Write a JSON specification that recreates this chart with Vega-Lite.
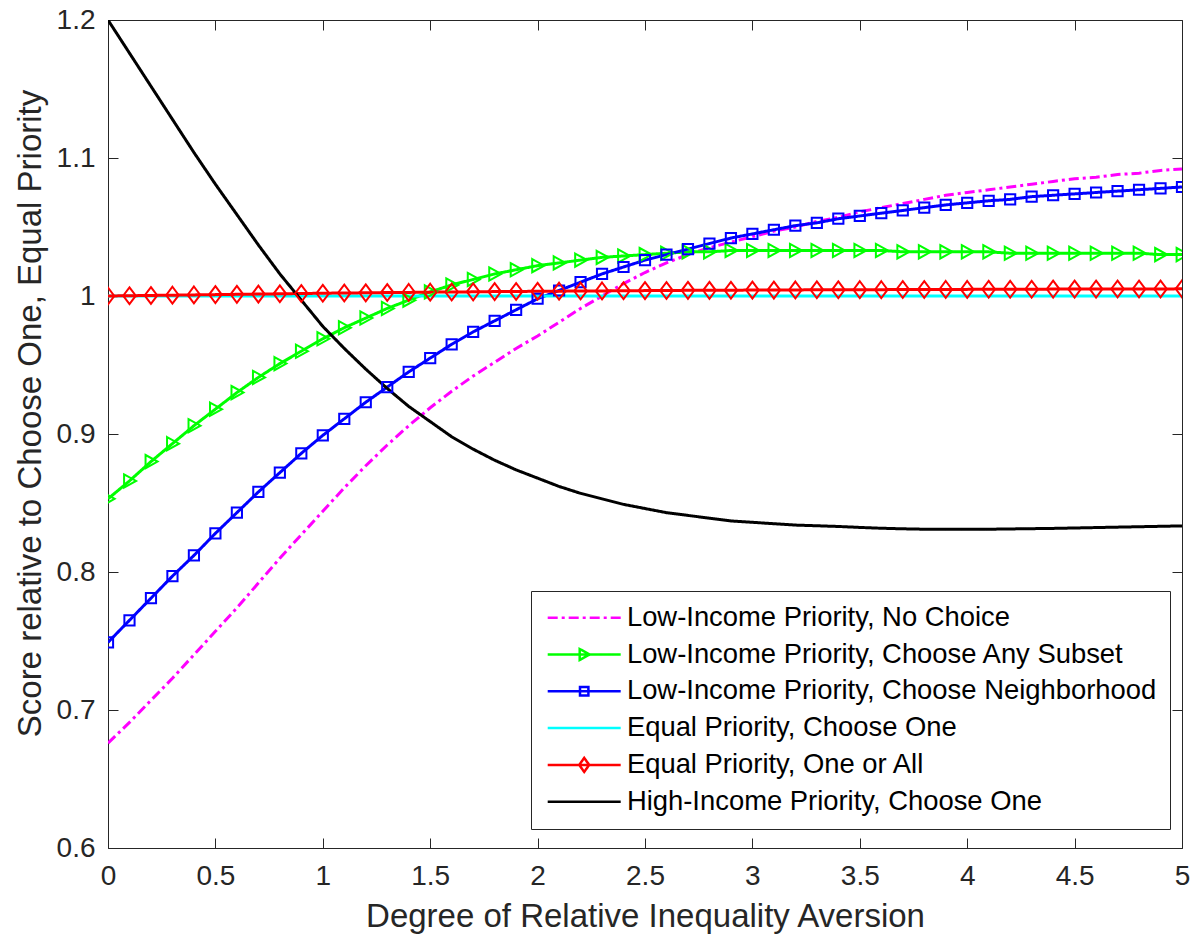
{
"$schema": "https://vega.github.io/schema/vega-lite/v6.json",
"width": 1074, "height": 828,
"autosize": {"type": "none"},
"padding": {"left": 108, "top": 20, "right": 14, "bottom": 94},
"background": "white",
"title": {"text": "Cost-Adjusted", "font": "Liberation Sans", "fontSize": 33, "fontWeight": "bold", "color": "#000000", "anchor": "middle", "frame": "group", "offset": 0, "dy": 14, "baseline": "alphabetic"},
"config": {"view": {"stroke": null}, "font": "Liberation Sans",
  "axis": {"domainColor": "#262626", "tickColor": "#262626", "domainWidth": 1, "tickWidth": 1, "grid": false, "tickSize": -10,
    "labelFont": "Liberation Sans", "labelFontSize": 28, "labelColor": "#262626",
    "titleFont": "Liberation Sans", "titleFontSize": 33, "titleFontWeight": "normal", "titleColor": "#262626"},
  "legend": {"orient": "none", "legendX": 423, "legendY": 571, "title": null, "symbolSize": 400, "symbolStrokeWidth": 2.5, "symbolOffset": 26.5,
    "symbolOpacity": 1, "symbolFillColor": "transparent",
    "labelFont": "Liberation Sans", "labelFontSize": 27.4, "labelColor": "#000000", "labelLimit": 0, "labelOffset": 29,
    "rowPadding": 7.8, "padding": 13, "fillColor": "white", "strokeColor": "#262626", "cornerRadius": 0}},
"data": {"values": [
{"series":"Low-Income Priority, No Choice","x":0,"y":0.676},{"series":"Low-Income Priority, No Choice","x":0.1,"y":0.691},{"series":"Low-Income Priority, No Choice","x":0.2,"y":0.707},{"series":"Low-Income Priority, No Choice","x":0.3,"y":0.723},{"series":"Low-Income Priority, No Choice","x":0.4,"y":0.740},{"series":"Low-Income Priority, No Choice","x":0.5,"y":0.757},{"series":"Low-Income Priority, No Choice","x":0.6,"y":0.774},{"series":"Low-Income Priority, No Choice","x":0.7,"y":0.792},{"series":"Low-Income Priority, No Choice","x":0.8,"y":0.810},{"series":"Low-Income Priority, No Choice","x":0.9,"y":0.827},{"series":"Low-Income Priority, No Choice","x":1,"y":0.844},{"series":"Low-Income Priority, No Choice","x":1.1,"y":0.861},{"series":"Low-Income Priority, No Choice","x":1.2,"y":0.877},{"series":"Low-Income Priority, No Choice","x":1.3,"y":0.892},{"series":"Low-Income Priority, No Choice","x":1.4,"y":0.906},{"series":"Low-Income Priority, No Choice","x":1.5,"y":0.919},{"series":"Low-Income Priority, No Choice","x":1.6,"y":0.931},{"series":"Low-Income Priority, No Choice","x":1.7,"y":0.942},{"series":"Low-Income Priority, No Choice","x":1.8,"y":0.952},{"series":"Low-Income Priority, No Choice","x":1.9,"y":0.962},{"series":"Low-Income Priority, No Choice","x":2,"y":0.971},{"series":"Low-Income Priority, No Choice","x":2.1,"y":0.981},{"series":"Low-Income Priority, No Choice","x":2.2,"y":0.991},{"series":"Low-Income Priority, No Choice","x":2.3,"y":1.000},{"series":"Low-Income Priority, No Choice","x":2.4,"y":1.009},{"series":"Low-Income Priority, No Choice","x":2.5,"y":1.017},{"series":"Low-Income Priority, No Choice","x":2.6,"y":1.024},{"series":"Low-Income Priority, No Choice","x":2.7,"y":1.030},{"series":"Low-Income Priority, No Choice","x":2.8,"y":1.035},{"series":"Low-Income Priority, No Choice","x":2.9,"y":1.039},{"series":"Low-Income Priority, No Choice","x":3,"y":1.043},{"series":"Low-Income Priority, No Choice","x":3.1,"y":1.047},{"series":"Low-Income Priority, No Choice","x":3.2,"y":1.050},{"series":"Low-Income Priority, No Choice","x":3.3,"y":1.054},{"series":"Low-Income Priority, No Choice","x":3.4,"y":1.057},{"series":"Low-Income Priority, No Choice","x":3.5,"y":1.061},{"series":"Low-Income Priority, No Choice","x":3.6,"y":1.064},{"series":"Low-Income Priority, No Choice","x":3.7,"y":1.067},{"series":"Low-Income Priority, No Choice","x":3.8,"y":1.070},{"series":"Low-Income Priority, No Choice","x":3.9,"y":1.073},{"series":"Low-Income Priority, No Choice","x":4,"y":1.075},{"series":"Low-Income Priority, No Choice","x":4.1,"y":1.077},{"series":"Low-Income Priority, No Choice","x":4.2,"y":1.079},{"series":"Low-Income Priority, No Choice","x":4.3,"y":1.081},{"series":"Low-Income Priority, No Choice","x":4.4,"y":1.083},{"series":"Low-Income Priority, No Choice","x":4.5,"y":1.085},{"series":"Low-Income Priority, No Choice","x":4.6,"y":1.086},{"series":"Low-Income Priority, No Choice","x":4.7,"y":1.088},{"series":"Low-Income Priority, No Choice","x":4.8,"y":1.089},{"series":"Low-Income Priority, No Choice","x":4.9,"y":1.091},{"series":"Low-Income Priority, No Choice","x":5,"y":1.092},
{"series":"Low-Income Priority, Choose Any Subset","x":0,"y":0.853},{"series":"Low-Income Priority, Choose Any Subset","x":0.1,"y":0.866},{"series":"Low-Income Priority, Choose Any Subset","x":0.2,"y":0.880},{"series":"Low-Income Priority, Choose Any Subset","x":0.3,"y":0.893},{"series":"Low-Income Priority, Choose Any Subset","x":0.4,"y":0.906},{"series":"Low-Income Priority, Choose Any Subset","x":0.5,"y":0.918},{"series":"Low-Income Priority, Choose Any Subset","x":0.6,"y":0.930},{"series":"Low-Income Priority, Choose Any Subset","x":0.7,"y":0.941},{"series":"Low-Income Priority, Choose Any Subset","x":0.8,"y":0.951},{"series":"Low-Income Priority, Choose Any Subset","x":0.9,"y":0.960},{"series":"Low-Income Priority, Choose Any Subset","x":1,"y":0.969},{"series":"Low-Income Priority, Choose Any Subset","x":1.1,"y":0.977},{"series":"Low-Income Priority, Choose Any Subset","x":1.2,"y":0.984},{"series":"Low-Income Priority, Choose Any Subset","x":1.3,"y":0.991},{"series":"Low-Income Priority, Choose Any Subset","x":1.4,"y":0.997},{"series":"Low-Income Priority, Choose Any Subset","x":1.5,"y":1.003},{"series":"Low-Income Priority, Choose Any Subset","x":1.6,"y":1.008},{"series":"Low-Income Priority, Choose Any Subset","x":1.7,"y":1.012},{"series":"Low-Income Priority, Choose Any Subset","x":1.8,"y":1.016},{"series":"Low-Income Priority, Choose Any Subset","x":1.9,"y":1.019},{"series":"Low-Income Priority, Choose Any Subset","x":2,"y":1.022},{"series":"Low-Income Priority, Choose Any Subset","x":2.1,"y":1.024},{"series":"Low-Income Priority, Choose Any Subset","x":2.2,"y":1.026},{"series":"Low-Income Priority, Choose Any Subset","x":2.3,"y":1.028},{"series":"Low-Income Priority, Choose Any Subset","x":2.4,"y":1.029},{"series":"Low-Income Priority, Choose Any Subset","x":2.5,"y":1.030},{"series":"Low-Income Priority, Choose Any Subset","x":2.6,"y":1.031},{"series":"Low-Income Priority, Choose Any Subset","x":2.7,"y":1.032},{"series":"Low-Income Priority, Choose Any Subset","x":2.8,"y":1.032},{"series":"Low-Income Priority, Choose Any Subset","x":2.9,"y":1.033},{"series":"Low-Income Priority, Choose Any Subset","x":3,"y":1.033},{"series":"Low-Income Priority, Choose Any Subset","x":3.1,"y":1.033},{"series":"Low-Income Priority, Choose Any Subset","x":3.2,"y":1.033},{"series":"Low-Income Priority, Choose Any Subset","x":3.3,"y":1.033},{"series":"Low-Income Priority, Choose Any Subset","x":3.4,"y":1.033},{"series":"Low-Income Priority, Choose Any Subset","x":3.5,"y":1.033},{"series":"Low-Income Priority, Choose Any Subset","x":3.6,"y":1.033},{"series":"Low-Income Priority, Choose Any Subset","x":3.7,"y":1.032},{"series":"Low-Income Priority, Choose Any Subset","x":3.8,"y":1.032},{"series":"Low-Income Priority, Choose Any Subset","x":3.9,"y":1.032},{"series":"Low-Income Priority, Choose Any Subset","x":4,"y":1.032},{"series":"Low-Income Priority, Choose Any Subset","x":4.1,"y":1.032},{"series":"Low-Income Priority, Choose Any Subset","x":4.2,"y":1.031},{"series":"Low-Income Priority, Choose Any Subset","x":4.3,"y":1.031},{"series":"Low-Income Priority, Choose Any Subset","x":4.4,"y":1.031},{"series":"Low-Income Priority, Choose Any Subset","x":4.5,"y":1.031},{"series":"Low-Income Priority, Choose Any Subset","x":4.6,"y":1.031},{"series":"Low-Income Priority, Choose Any Subset","x":4.7,"y":1.031},{"series":"Low-Income Priority, Choose Any Subset","x":4.8,"y":1.031},{"series":"Low-Income Priority, Choose Any Subset","x":4.9,"y":1.030},{"series":"Low-Income Priority, Choose Any Subset","x":5,"y":1.030},
{"series":"Low-Income Priority, Choose Neighborhood","x":0,"y":0.749},{"series":"Low-Income Priority, Choose Neighborhood","x":0.1,"y":0.765},{"series":"Low-Income Priority, Choose Neighborhood","x":0.2,"y":0.781},{"series":"Low-Income Priority, Choose Neighborhood","x":0.3,"y":0.797},{"series":"Low-Income Priority, Choose Neighborhood","x":0.4,"y":0.812},{"series":"Low-Income Priority, Choose Neighborhood","x":0.5,"y":0.828},{"series":"Low-Income Priority, Choose Neighborhood","x":0.6,"y":0.843},{"series":"Low-Income Priority, Choose Neighborhood","x":0.7,"y":0.858},{"series":"Low-Income Priority, Choose Neighborhood","x":0.8,"y":0.872},{"series":"Low-Income Priority, Choose Neighborhood","x":0.9,"y":0.886},{"series":"Low-Income Priority, Choose Neighborhood","x":1,"y":0.899},{"series":"Low-Income Priority, Choose Neighborhood","x":1.1,"y":0.911},{"series":"Low-Income Priority, Choose Neighborhood","x":1.2,"y":0.923},{"series":"Low-Income Priority, Choose Neighborhood","x":1.3,"y":0.934},{"series":"Low-Income Priority, Choose Neighborhood","x":1.4,"y":0.945},{"series":"Low-Income Priority, Choose Neighborhood","x":1.5,"y":0.955},{"series":"Low-Income Priority, Choose Neighborhood","x":1.6,"y":0.965},{"series":"Low-Income Priority, Choose Neighborhood","x":1.7,"y":0.974},{"series":"Low-Income Priority, Choose Neighborhood","x":1.8,"y":0.982},{"series":"Low-Income Priority, Choose Neighborhood","x":1.9,"y":0.990},{"series":"Low-Income Priority, Choose Neighborhood","x":2,"y":0.998},{"series":"Low-Income Priority, Choose Neighborhood","x":2.1,"y":1.004},{"series":"Low-Income Priority, Choose Neighborhood","x":2.2,"y":1.010},{"series":"Low-Income Priority, Choose Neighborhood","x":2.3,"y":1.016},{"series":"Low-Income Priority, Choose Neighborhood","x":2.4,"y":1.021},{"series":"Low-Income Priority, Choose Neighborhood","x":2.5,"y":1.026},{"series":"Low-Income Priority, Choose Neighborhood","x":2.6,"y":1.030},{"series":"Low-Income Priority, Choose Neighborhood","x":2.7,"y":1.034},{"series":"Low-Income Priority, Choose Neighborhood","x":2.8,"y":1.038},{"series":"Low-Income Priority, Choose Neighborhood","x":2.9,"y":1.042},{"series":"Low-Income Priority, Choose Neighborhood","x":3,"y":1.045},{"series":"Low-Income Priority, Choose Neighborhood","x":3.1,"y":1.048},{"series":"Low-Income Priority, Choose Neighborhood","x":3.2,"y":1.051},{"series":"Low-Income Priority, Choose Neighborhood","x":3.3,"y":1.053},{"series":"Low-Income Priority, Choose Neighborhood","x":3.4,"y":1.056},{"series":"Low-Income Priority, Choose Neighborhood","x":3.5,"y":1.058},{"series":"Low-Income Priority, Choose Neighborhood","x":3.6,"y":1.060},{"series":"Low-Income Priority, Choose Neighborhood","x":3.7,"y":1.062},{"series":"Low-Income Priority, Choose Neighborhood","x":3.8,"y":1.064},{"series":"Low-Income Priority, Choose Neighborhood","x":3.9,"y":1.066},{"series":"Low-Income Priority, Choose Neighborhood","x":4,"y":1.0675},{"series":"Low-Income Priority, Choose Neighborhood","x":4.1,"y":1.069},{"series":"Low-Income Priority, Choose Neighborhood","x":4.2,"y":1.070},{"series":"Low-Income Priority, Choose Neighborhood","x":4.3,"y":1.072},{"series":"Low-Income Priority, Choose Neighborhood","x":4.4,"y":1.073},{"series":"Low-Income Priority, Choose Neighborhood","x":4.5,"y":1.074},{"series":"Low-Income Priority, Choose Neighborhood","x":4.6,"y":1.075},{"series":"Low-Income Priority, Choose Neighborhood","x":4.7,"y":1.076},{"series":"Low-Income Priority, Choose Neighborhood","x":4.8,"y":1.077},{"series":"Low-Income Priority, Choose Neighborhood","x":4.9,"y":1.078},{"series":"Low-Income Priority, Choose Neighborhood","x":5,"y":1.079},
{"series":"Equal Priority, Choose One","x":0,"y":1},{"series":"Equal Priority, Choose One","x":0.5,"y":1},{"series":"Equal Priority, Choose One","x":1,"y":1},{"series":"Equal Priority, Choose One","x":1.5,"y":1},{"series":"Equal Priority, Choose One","x":2,"y":1},{"series":"Equal Priority, Choose One","x":2.5,"y":1},{"series":"Equal Priority, Choose One","x":3,"y":1},{"series":"Equal Priority, Choose One","x":3.5,"y":1},{"series":"Equal Priority, Choose One","x":4,"y":1},{"series":"Equal Priority, Choose One","x":4.5,"y":1},{"series":"Equal Priority, Choose One","x":5,"y":1},
{"series":"Equal Priority, One or All","x":0,"y":1.0000},{"series":"Equal Priority, One or All","x":0.1,"y":1.0002},{"series":"Equal Priority, One or All","x":0.2,"y":1.0004},{"series":"Equal Priority, One or All","x":0.3,"y":1.0006},{"series":"Equal Priority, One or All","x":0.4,"y":1.0008},{"series":"Equal Priority, One or All","x":0.5,"y":1.0010},{"series":"Equal Priority, One or All","x":0.6,"y":1.0012},{"series":"Equal Priority, One or All","x":0.7,"y":1.0014},{"series":"Equal Priority, One or All","x":0.8,"y":1.0016},{"series":"Equal Priority, One or All","x":0.9,"y":1.0018},{"series":"Equal Priority, One or All","x":1,"y":1.0020},{"series":"Equal Priority, One or All","x":1.1,"y":1.0022},{"series":"Equal Priority, One or All","x":1.2,"y":1.0023},{"series":"Equal Priority, One or All","x":1.3,"y":1.0025},{"series":"Equal Priority, One or All","x":1.4,"y":1.0026},{"series":"Equal Priority, One or All","x":1.5,"y":1.0028},{"series":"Equal Priority, One or All","x":1.6,"y":1.0029},{"series":"Equal Priority, One or All","x":1.7,"y":1.0030},{"series":"Equal Priority, One or All","x":1.8,"y":1.0032},{"series":"Equal Priority, One or All","x":1.9,"y":1.0033},{"series":"Equal Priority, One or All","x":2,"y":1.0034},{"series":"Equal Priority, One or All","x":2.1,"y":1.0035},{"series":"Equal Priority, One or All","x":2.2,"y":1.0036},{"series":"Equal Priority, One or All","x":2.3,"y":1.0037},{"series":"Equal Priority, One or All","x":2.4,"y":1.0038},{"series":"Equal Priority, One or All","x":2.5,"y":1.0039},{"series":"Equal Priority, One or All","x":2.6,"y":1.0040},{"series":"Equal Priority, One or All","x":2.7,"y":1.0041},{"series":"Equal Priority, One or All","x":2.8,"y":1.0041},{"series":"Equal Priority, One or All","x":2.9,"y":1.0042},{"series":"Equal Priority, One or All","x":3,"y":1.0043},{"series":"Equal Priority, One or All","x":3.1,"y":1.0043},{"series":"Equal Priority, One or All","x":3.2,"y":1.0044},{"series":"Equal Priority, One or All","x":3.3,"y":1.0045},{"series":"Equal Priority, One or All","x":3.4,"y":1.0045},{"series":"Equal Priority, One or All","x":3.5,"y":1.0046},{"series":"Equal Priority, One or All","x":3.6,"y":1.0046},{"series":"Equal Priority, One or All","x":3.7,"y":1.0047},{"series":"Equal Priority, One or All","x":3.8,"y":1.0047},{"series":"Equal Priority, One or All","x":3.9,"y":1.0048},{"series":"Equal Priority, One or All","x":4,"y":1.0048},{"series":"Equal Priority, One or All","x":4.1,"y":1.0049},{"series":"Equal Priority, One or All","x":4.2,"y":1.0049},{"series":"Equal Priority, One or All","x":4.3,"y":1.0049},{"series":"Equal Priority, One or All","x":4.4,"y":1.0050},{"series":"Equal Priority, One or All","x":4.5,"y":1.0050},{"series":"Equal Priority, One or All","x":4.6,"y":1.0050},{"series":"Equal Priority, One or All","x":4.7,"y":1.0051},{"series":"Equal Priority, One or All","x":4.8,"y":1.0051},{"series":"Equal Priority, One or All","x":4.9,"y":1.0051},{"series":"Equal Priority, One or All","x":5,"y":1.0052},
{"series":"High-Income Priority, Choose One","x":0,"y":1.200},{"series":"High-Income Priority, Choose One","x":0.1,"y":1.176},{"series":"High-Income Priority, Choose One","x":0.2,"y":1.152},{"series":"High-Income Priority, Choose One","x":0.3,"y":1.128},{"series":"High-Income Priority, Choose One","x":0.4,"y":1.104},{"series":"High-Income Priority, Choose One","x":0.5,"y":1.081},{"series":"High-Income Priority, Choose One","x":0.6,"y":1.059},{"series":"High-Income Priority, Choose One","x":0.7,"y":1.037},{"series":"High-Income Priority, Choose One","x":0.8,"y":1.016},{"series":"High-Income Priority, Choose One","x":0.9,"y":0.997},{"series":"High-Income Priority, Choose One","x":1,"y":0.978},{"series":"High-Income Priority, Choose One","x":1.1,"y":0.962},{"series":"High-Income Priority, Choose One","x":1.2,"y":0.947},{"series":"High-Income Priority, Choose One","x":1.3,"y":0.933},{"series":"High-Income Priority, Choose One","x":1.4,"y":0.920},{"series":"High-Income Priority, Choose One","x":1.5,"y":0.909},{"series":"High-Income Priority, Choose One","x":1.6,"y":0.898},{"series":"High-Income Priority, Choose One","x":1.7,"y":0.889},{"series":"High-Income Priority, Choose One","x":1.8,"y":0.881},{"series":"High-Income Priority, Choose One","x":1.9,"y":0.874},{"series":"High-Income Priority, Choose One","x":2,"y":0.868},{"series":"High-Income Priority, Choose One","x":2.1,"y":0.862},{"series":"High-Income Priority, Choose One","x":2.2,"y":0.857},{"series":"High-Income Priority, Choose One","x":2.3,"y":0.853},{"series":"High-Income Priority, Choose One","x":2.4,"y":0.849},{"series":"High-Income Priority, Choose One","x":2.5,"y":0.846},{"series":"High-Income Priority, Choose One","x":2.6,"y":0.843},{"series":"High-Income Priority, Choose One","x":2.7,"y":0.841},{"series":"High-Income Priority, Choose One","x":2.8,"y":0.839},{"series":"High-Income Priority, Choose One","x":2.9,"y":0.837},{"series":"High-Income Priority, Choose One","x":3,"y":0.836},{"series":"High-Income Priority, Choose One","x":3.1,"y":0.835},{"series":"High-Income Priority, Choose One","x":3.2,"y":0.834},{"series":"High-Income Priority, Choose One","x":3.3,"y":0.8335},{"series":"High-Income Priority, Choose One","x":3.4,"y":0.833},{"series":"High-Income Priority, Choose One","x":3.5,"y":0.8323},{"series":"High-Income Priority, Choose One","x":3.6,"y":0.8317},{"series":"High-Income Priority, Choose One","x":3.7,"y":0.8313},{"series":"High-Income Priority, Choose One","x":3.8,"y":0.831},{"series":"High-Income Priority, Choose One","x":3.9,"y":0.8309},{"series":"High-Income Priority, Choose One","x":4,"y":0.8309},{"series":"High-Income Priority, Choose One","x":4.1,"y":0.831},{"series":"High-Income Priority, Choose One","x":4.2,"y":0.8312},{"series":"High-Income Priority, Choose One","x":4.3,"y":0.8314},{"series":"High-Income Priority, Choose One","x":4.4,"y":0.8316},{"series":"High-Income Priority, Choose One","x":4.5,"y":0.8319},{"series":"High-Income Priority, Choose One","x":4.6,"y":0.8322},{"series":"High-Income Priority, Choose One","x":4.7,"y":0.8325},{"series":"High-Income Priority, Choose One","x":4.8,"y":0.8328},{"series":"High-Income Priority, Choose One","x":4.9,"y":0.8331},{"series":"High-Income Priority, Choose One","x":5,"y":0.8334}
]},
"layer": [
{
 "mark": {"type": "line", "strokeWidth": 3, "clip": true},
 "encoding": {
  "x": {"field": "x", "type": "quantitative", "scale": {"domain": [0, 5], "nice": false, "zero": false},
        "axis": {"orient": "bottom", "values": [0, 0.5, 1, 1.5, 2, 2.5, 3, 3.5, 4, 4.5, 5], "format": "~g", "labelPadding": 24, "labelFlush": false, "labelOverlap": false, "titlePadding": 10},
        "title": "Degree of Relative Inequality Aversion"},
  "y": {"field": "y", "type": "quantitative", "scale": {"domain": [0.6, 1.2], "nice": false, "zero": false},
        "axis": {"orient": "left", "values": [0.6, 0.7, 0.8, 0.9, 1, 1.1, 1.2], "format": "~g", "labelPadding": 23, "labelFlush": false, "labelOverlap": false, "titlePadding": 9, "titleY": 393},
        "title": "Score relative to Choose One, Equal Priority"},
  "color": {"field": "series", "type": "nominal",
     "scale": {"domain": ["Low-Income Priority, No Choice", "Low-Income Priority, Choose Any Subset", "Low-Income Priority, Choose Neighborhood", "Equal Priority, Choose One", "Equal Priority, One or All", "High-Income Priority, Choose One"],
               "range": ["#FF00FF", "#00FF00", "#0000FF", "#00FFFF", "#FF0000", "#000000"]},
     "legend": {}},
  "strokeDash": {"field": "series", "type": "nominal",
     "scale": {"domain": ["Low-Income Priority, No Choice", "Low-Income Priority, Choose Any Subset", "Low-Income Priority, Choose Neighborhood", "Equal Priority, Choose One", "Equal Priority, One or All", "High-Income Priority, Choose One"],
               "range": [[10, 4, 3, 4], [1, 0], [1, 0], [1, 0], [1, 0], [1, 0]]},
     "legend": {}}
 }
},
{
 "mark": {"type": "point", "filled": false, "size": 0, "opacity": 0},
 "encoding": {
  "x": {"field": "x", "type": "quantitative", "axis": {"orient": "top", "values": [0, 0.5, 1, 1.5, 2, 2.5, 3, 3.5, 4, 4.5, 5], "labels": false, "title": null}},
  "y": {"field": "y", "type": "quantitative", "axis": {"orient": "right", "values": [0.6, 0.7, 0.8, 0.9, 1, 1.1, 1.2], "labels": false, "title": null}},
  "color": {"field": "series", "type": "nominal", "legend": {}},
  "shape": {"field": "series", "type": "nominal",
     "scale": {"domain": ["Low-Income Priority, No Choice", "Low-Income Priority, Choose Any Subset", "Low-Income Priority, Choose Neighborhood", "Equal Priority, Choose One", "Equal Priority, One or All", "High-Income Priority, Choose One"],
               "range": ["M-3.65,0H3.65", "M-3.65,0H3.65M-0.45,-0.55L0.55,0L-0.45,0.55Z", "M-3.65,0H3.65M-0.42,-0.42H0.42V0.42H-0.42Z", "M-3.65,0H3.65", "M-3.65,0H3.65M0,-0.7L0.5,0L0,0.7L-0.5,0Z", "M-3.65,0H3.65"]},
     "legend": {}}
 }
},
{
 "transform": [{"filter": {"field": "series", "equal": "Low-Income Priority, Choose Any Subset"}}],
 "mark": {"type": "point", "filled": false, "shape": "M-0.9,-1.1L1.1,0L-0.9,1.1Z", "color": "#00FF00", "strokeWidth": 2, "size": 144, "opacity": 1, "clip": true},
 "encoding": {
  "x": {"field": "x", "type": "quantitative", "axis": null},
  "y": {"field": "y", "type": "quantitative", "axis": null}
 }
},
{
 "transform": [{"filter": {"field": "series", "equal": "Low-Income Priority, Choose Neighborhood"}}],
 "mark": {"type": "point", "filled": false, "shape": "M-0.85,-0.85H0.85V0.85H-0.85Z", "color": "#0000FF", "strokeWidth": 2, "size": 144, "opacity": 1, "clip": true},
 "encoding": {
  "x": {"field": "x", "type": "quantitative", "axis": null},
  "y": {"field": "y", "type": "quantitative", "axis": null}
 }
},
{
 "transform": [{"filter": {"field": "series", "equal": "Equal Priority, One or All"}}],
 "mark": {"type": "point", "filled": false, "shape": "M0,-1.4L1.05,0L0,1.4L-1.05,0Z", "color": "#FF0000", "strokeWidth": 2, "size": 144, "opacity": 1, "clip": true},
 "encoding": {
  "x": {"field": "x", "type": "quantitative", "axis": null},
  "y": {"field": "y", "type": "quantitative", "axis": null}
 }
}
],
"resolve": {"axis": {"x": "independent", "y": "independent"}}
}
